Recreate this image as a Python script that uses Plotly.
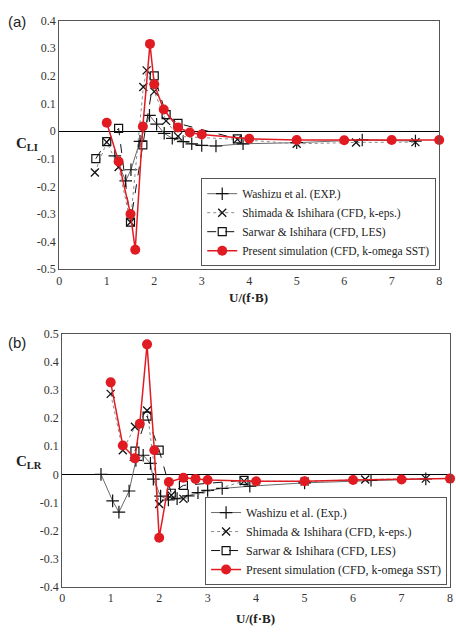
import plotly.graph_objects as go

W, H = 456, 638

# ---------------- Panel (a) data: C_LI ----------------
a_wash_x = [1.17, 1.40, 1.51, 1.70, 1.90, 2.05, 2.21, 2.38, 2.61, 2.79, 3.0, 3.30, 3.87, 5.0, 6.38, 7.5]
a_wash_y = [-0.09, -0.18, -0.14, -0.037, 0.057, 0.025, -0.008, -0.026, -0.038, -0.046, -0.052, -0.054, -0.046, -0.042, -0.032, -0.036]
a_shim_x = [0.75, 1.0, 1.25, 1.5, 1.77, 1.84, 2.0, 2.25, 2.5, 3.75, 5.0, 6.25, 7.5]
a_shim_y = [-0.15, -0.04, -0.13, -0.33, 0.16, 0.22, 0.143, 0.037, -0.019, -0.03, -0.046, -0.041, -0.04]
a_sarw_x = [0.77, 1.0, 1.25, 1.5, 1.76, 2.0, 2.25, 2.5, 3.75]
a_sarw_y = [-0.10, -0.038, 0.01, -0.33, -0.05, 0.20, 0.06, 0.028, -0.028]
a_pres_x = [1.0, 1.25, 1.5, 1.6, 1.76, 1.91, 2.0, 2.2, 2.5, 2.75, 3.0, 4.0, 5.0, 6.0, 7.0, 8.0]
a_pres_y = [0.03, -0.11, -0.30, -0.43, 0.017, 0.316, 0.17, 0.078, 0.013, -0.005, -0.012, -0.028, -0.032, -0.033, -0.032, -0.032]

# ---------------- Panel (b) data: C_LR ----------------
b_wash_x = [0.8, 1.04, 1.17, 1.38, 1.52, 1.67, 1.82, 1.88, 2.03, 2.19, 2.37, 2.6, 2.8, 3.0, 3.3, 3.87, 5.0, 6.37, 7.5]
b_wash_y = [0.0, -0.094, -0.134, -0.059, 0.05, 0.068, 0.039, -0.017, -0.077, -0.091, -0.086, -0.076, -0.065, -0.057, -0.05, -0.042, -0.03, -0.021, -0.016]
b_shim_x = [1.0, 1.25, 1.5, 1.75, 2.0, 2.25, 2.5, 3.75, 5.0, 6.25, 7.5]
b_shim_y = [0.286, 0.086, 0.169, 0.227, -0.105, -0.074, -0.087, -0.024, -0.025, -0.018, -0.015]
b_sarw_x = [1.5, 1.75, 2.0, 2.25, 2.5, 3.75]
b_sarw_y = [0.083, 0.207, 0.086, -0.067, -0.039, -0.021]
b_pres_x = [1.0, 1.25, 1.5, 1.6, 1.75, 1.9, 2.0, 2.2, 2.5, 2.75, 3.0, 4.0, 5.0, 6.0, 7.0, 8.0]
b_pres_y = [0.327, 0.103, 0.057, 0.18, 0.462, 0.086, -0.225, -0.027, -0.012, -0.016, -0.02, -0.024, -0.024, -0.02, -0.018, -0.015]

names_a = ["Washizu et al. (EXP.)", "Shimada & Ishihara (CFD, k-eps.)",
           "Sarwar & Ishihara (CFD, LES)", "Present simulation (CFD, k-omega SST)"]
names_b = ["Washizu et al. (Exp.)", "Shimada & Ishihara (CFD, k-eps.)",
           "Sarwar & Ishihara (CFD, LES)", "Present simulation (CFD, k-omega SST)"]

x_ticks = [0, 1, 2, 3, 4, 5, 6, 7, 8]
a_yticks = [0.4, 0.3, 0.2, 0.1, 0, -0.1, -0.2, -0.3, -0.4, -0.5]
b_yticks = [0.5, 0.4, 0.3, 0.2, 0.1, 0, -0.1, -0.2, -0.3, -0.4]

def fmt(v):
    return "0" if v == 0 else ("%g" % v)

RED = "#e01b22"
SERIF = "Liberation Serif"

fig = go.Figure()

def add_panel(xa, ya, leg, data, names):
    (wx, wy), (sx, sy), (qx, qy), (px, py) = data
    fig.add_trace(go.Scatter(x=wx, y=wy, name=names[0], mode="lines+markers", xaxis=xa, yaxis=ya, legend=leg,
                             line=dict(color="#6a6a6a", width=1),
                             marker=dict(symbol="cross-thin", size=9, color="#111", line=dict(color="#111", width=1.2)),
                             cliponaxis=False))
    fig.add_trace(go.Scatter(x=sx, y=sy, name=names[1], mode="lines+markers", xaxis=xa, yaxis=ya, legend=leg,
                             line=dict(color="#8a8a8a", width=1, dash="dot"),
                             marker=dict(symbol="x-thin", size=8, color="#111", line=dict(color="#111", width=1.3)),
                             cliponaxis=False))
    fig.add_trace(go.Scatter(x=qx, y=qy, name=names[2], mode="lines+markers", xaxis=xa, yaxis=ya, legend=leg,
                             line=dict(color="#111", width=1, dash="dash"),
                             marker=dict(symbol="square-open", size=8, color="#111", line=dict(color="#111", width=1.2)),
                             cliponaxis=False))
    fig.add_trace(go.Scatter(x=px, y=py, name=names[3], mode="lines+markers", xaxis=xa, yaxis=ya, legend=leg,
                             line=dict(color=RED, width=1.5),
                             marker=dict(symbol="circle", size=10, color=RED),
                             cliponaxis=False))

add_panel("x", "y", "legend",
          [(a_wash_x, a_wash_y), (a_shim_x, a_shim_y), (a_sarw_x, a_sarw_y), (a_pres_x, a_pres_y)], names_a)
add_panel("x2", "y2", "legend2",
          [(b_wash_x, b_wash_y), (b_shim_x, b_shim_y), (b_sarw_x, b_sarw_y), (b_pres_x, b_pres_y)], names_b)

def px2x(p):
    return p / W

def px2y(p):
    return 1 - p / H

axis_common = dict(showgrid=False, showline=True, linecolor="#555", linewidth=1, mirror=True,
                   ticks="", tickfont=dict(family=SERIF, size=12, color="#333"))

fig.update_layout(
    width=W, height=H, margin=dict(l=0, r=0, t=0, b=0),
    paper_bgcolor="white", plot_bgcolor="white",
    xaxis=dict(domain=[px2x(57), px2x(442)], anchor="y", range=[0, 8], tickvals=x_ticks,
               ticktext=[str(t) for t in x_ticks], zeroline=False, **axis_common),
    yaxis=dict(domain=[px2y(268), px2y(14)], anchor="x", range=[-0.5, 0.4], tickvals=a_yticks,
               ticktext=[fmt(t) for t in a_yticks], zeroline=True, zerolinecolor="#000",
               zerolinewidth=1.3, **axis_common),
    xaxis2=dict(domain=[px2x(60), px2x(453)], anchor="y2", range=[0, 8], tickvals=x_ticks,
                ticktext=[str(t) for t in x_ticks], zeroline=False, **axis_common),
    yaxis2=dict(domain=[px2y(593), px2y(334)], anchor="x2", range=[-0.4, 0.5], tickvals=b_yticks,
                ticktext=[fmt(t) for t in b_yticks], zeroline=True, zerolinecolor="#000",
                zerolinewidth=1.3, **axis_common),
    legend=dict(x=px2x(439), y=px2y(265), xanchor="right", yanchor="bottom",
                bordercolor="#555", borderwidth=1, bgcolor="white",
                font=dict(family=SERIF, size=11.5, color="#222"), itemwidth=30, tracegroupgap=0),
    legend2=dict(x=px2x(450), y=px2y(591), xanchor="right", yanchor="bottom",
                 bordercolor="#555", borderwidth=1, bgcolor="white",
                 font=dict(family=SERIF, size=12, color="#222"), itemwidth=30, tracegroupgap=0),
    showlegend=True,
)

ann = [
    dict(text="(a)", x=px2x(3), y=px2y(15), xanchor="left", yanchor="middle",
         font=dict(family="Liberation Sans", size=15, color="#222")),
    dict(text="(b)", x=px2x(3), y=px2y(343), xanchor="left", yanchor="middle",
         font=dict(family="Liberation Sans", size=15, color="#222")),
    dict(text="<b>C<sub>LI</sub></b>", x=px2x(11), y=px2y(140), xanchor="left", yanchor="middle",
         font=dict(family=SERIF, size=15, color="#222")),
    dict(text="<b>C<sub>LR</sub></b>", x=px2x(11), y=px2y(465), xanchor="left", yanchor="middle",
         font=dict(family=SERIF, size=15, color="#222")),
    dict(text="<b>U/(f·B)</b>", x=px2x(249), y=px2y(297), xanchor="center", yanchor="middle",
         font=dict(family=SERIF, size=13, color="#222")),
    dict(text="<b>U/(f·B)</b>", x=px2x(256), y=px2y(625), xanchor="center", yanchor="middle",
         font=dict(family=SERIF, size=13, color="#222")),
]
for a in ann:
    a.update(xref="paper", yref="paper", showarrow=False)
fig.update_layout(annotations=ann)

fig.write_html("out.html")
